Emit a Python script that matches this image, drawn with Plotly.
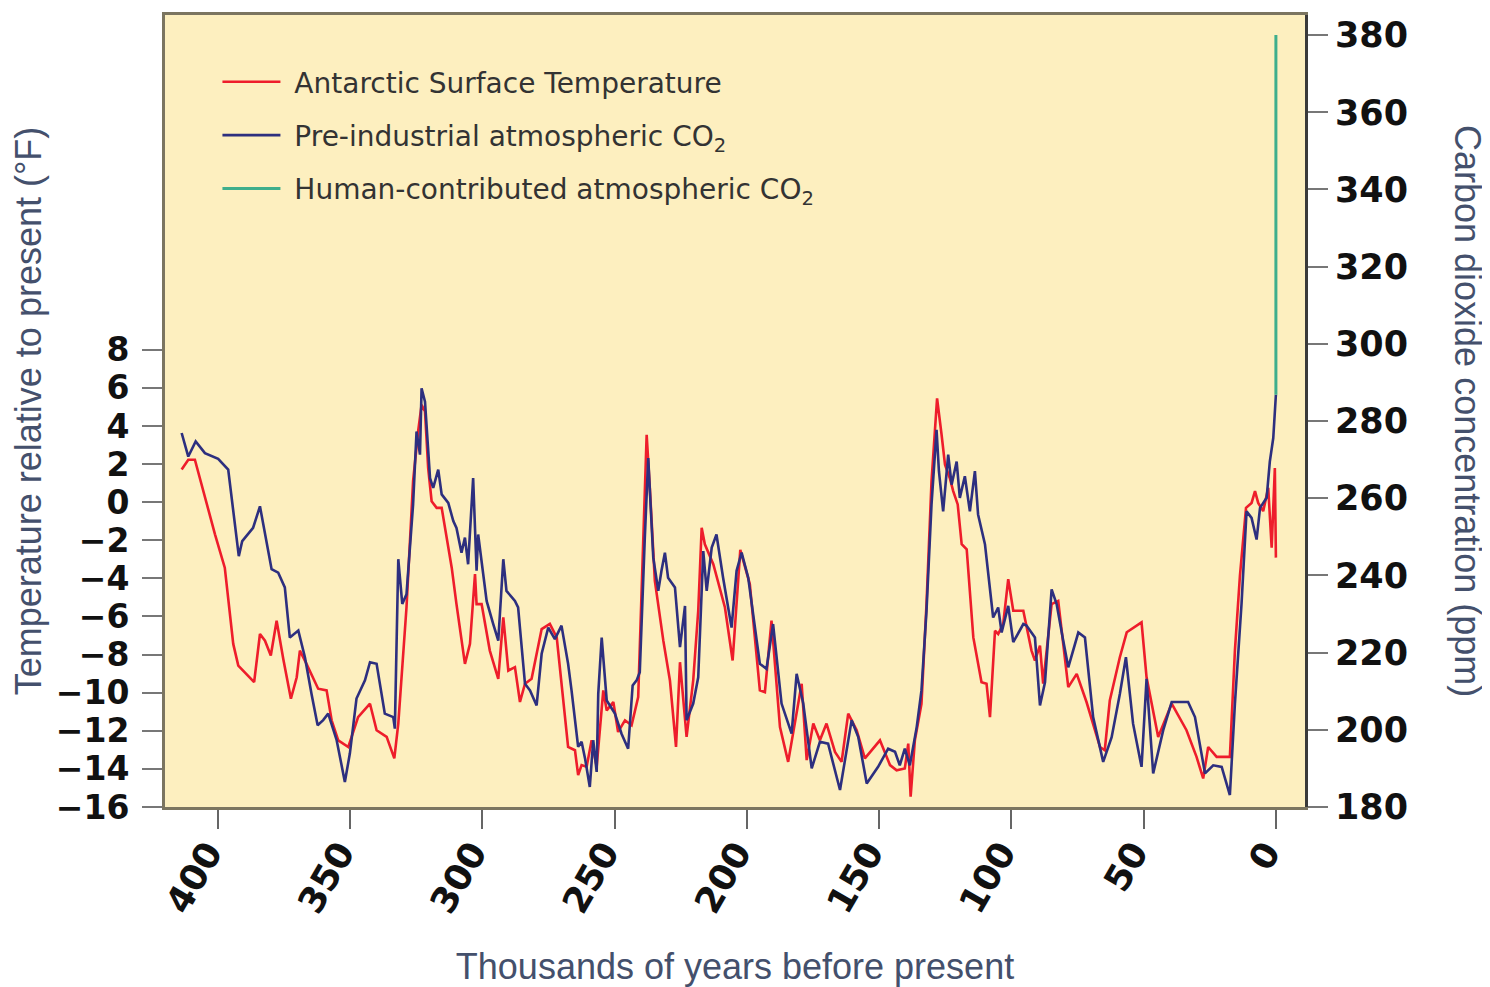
import plotly.graph_objects as go

# ---------------- data ----------------
temp_age = [
    413.7, 411.2, 408.7, 404.3, 401.1, 397.4, 394.2, 392.3, 389.2, 386.3,
    384.1, 382.2, 380.0, 377.8, 375.3, 372.4, 370.2, 369.0, 366.5, 362.1,
    358.9, 357.0, 354.5, 350.7, 347.0, 342.5, 340.0, 336.2, 333.3, 331.8,
    328.7, 326.2, 324.3, 323.0, 321.7, 320.5, 319.2, 317.3, 315.4, 313.5,
    311.6, 309.8, 306.6, 304.7, 302.8, 302.2, 300.3, 297.2, 294.0, 292.1,
    290.2, 287.7, 285.8, 283.9, 281.4, 277.6, 274.5, 271.9, 267.6, 265.0,
    263.8, 262.5, 260.6, 258.7, 256.8, 254.3, 253.0, 250.5, 248.7, 246.1,
    243.6, 241.1, 239.2, 237.9, 236.7, 234.8, 231.6, 229.1, 226.8, 225.3,
    222.8, 220.3, 218.4, 217.1, 215.9, 212.7, 208.3, 205.4, 202.5, 198.9,
    195.1, 193.2, 190.7, 187.5, 184.4, 182.5, 179.3, 177.4, 174.9, 172.4,
    169.9, 166.7, 164.2, 161.7, 158.5, 155.4, 152.9, 149.7, 145.9, 143.4,
    140.3, 139.0, 138.1, 136.5, 134.0, 132.1, 130.2, 128.1, 126.4, 125.1,
    123.3, 122.0, 120.3, 118.8, 116.9, 114.4, 111.3, 109.4, 108.1, 106.2,
    105.0, 103.1, 101.2, 99.3, 95.5, 92.4, 91.1, 89.2, 88.0, 84.8,
    82.3, 80.4, 78.5, 75.3, 71.6, 66.5, 64.7, 62.8, 59.0, 56.4,
    50.8, 48.9, 44.5, 39.4, 33.8, 30.0, 27.5, 25.6, 22.4, 17.4,
    15.5, 13.6, 11.3, 9.2, 7.9, 6.7, 4.8, 2.9, 1.6, 0.4,
    0.0,
]
temp_f = [
    1.71, 2.23, 2.23, -0.12, -1.69, -3.44, -7.44, -8.58, -9.01, -9.45,
    -6.92, -7.27, -8.05, -6.22, -8.22, -10.32, -9.19, -7.79, -8.49, -9.79,
    -9.88, -11.45, -12.50, -12.85, -11.28, -10.58, -11.97, -12.32, -13.45, -11.62,
    -5.53, 1.10, 3.71, 5.11, 4.76, 1.79, 0.05, -0.30, -0.30, -1.87,
    -3.44, -5.35, -8.49, -7.44, -3.78, -5.35, -5.35, -7.79, -9.27, -6.05,
    -8.84, -8.66, -10.49, -9.53, -9.27, -6.66, -6.39, -7.10, -12.85, -13.02,
    -14.33, -13.80, -13.89, -12.50, -13.89, -9.88, -10.93, -10.49, -12.06, -11.45,
    -11.71, -10.23, -1.87, 3.54, 0.75, -4.13, -7.27, -9.36, -12.85, -8.40,
    -12.32, -9.36, -5.70, -1.34, -2.21, -3.26, -5.53, -8.31, -2.50, -4.30,
    -9.88, -9.97, -6.22, -11.80, -13.63, -12.15, -9.53, -13.54, -11.62, -12.50,
    -11.62, -13.11, -13.63, -11.10, -11.97, -13.45, -13.02, -12.50, -13.80, -14.07,
    -13.98, -12.67, -15.46, -12.50, -10.58, -5.35, 1.10, 5.45, 3.54, 1.97,
    1.27, 0.58, -0.12, -2.21, -2.47, -7.10, -9.45, -9.53, -11.28, -6.75,
    -6.92, -6.39, -4.04, -5.70, -5.70, -7.79, -8.31, -7.53, -9.53, -5.35,
    -5.18, -7.44, -9.71, -9.01, -10.49, -12.85, -13.02, -10.41, -8.14, -6.83,
    -6.31, -9.19, -12.32, -10.58, -11.97, -13.37, -14.50, -12.85, -13.37, -13.37,
    -7.79, -3.87, -0.30, -0.04, 0.58, -0.04, -0.47, 0.75, -2.39, 1.79,
    -2.91,
]

co2_age = [
    413.7, 411.2, 408.4, 404.9, 399.9, 396.1, 392.1, 390.8, 386.7, 384.1,
    379.7, 377.2, 374.7, 372.8, 369.6, 367.1, 364.6, 362.3, 360.2, 358.3,
    355.1, 352.0, 350.1, 347.6, 344.4, 342.5, 340.0, 336.9, 333.7, 333.1,
    331.8, 330.3, 328.7, 326.2, 324.9, 323.6, 323.0, 321.7, 319.8, 318.6,
    316.7, 315.4, 312.9, 311.0, 309.8, 307.9, 306.6, 305.4, 303.5, 302.2,
    301.6, 298.4, 295.9, 294.0, 292.1, 290.9, 287.7, 286.5, 283.9, 282.0,
    279.5, 277.6, 275.1, 272.6, 270.1, 267.6, 266.3, 263.8, 262.5, 261.2,
    259.4, 258.1, 256.8, 256.2, 254.9, 253.0, 249.9, 247.4, 244.9, 243.2,
    241.7, 240.5, 238.6, 237.3, 235.4, 233.5, 232.3, 231.0, 229.8, 227.2,
    225.3, 223.4, 222.8, 220.3, 218.4, 216.5, 215.2, 213.3, 211.5, 209.0,
    205.8, 203.9, 202.0, 199.5, 195.1, 192.6, 190.1, 186.9, 183.1, 181.2,
    178.7, 175.5, 172.4, 169.3, 164.8, 160.4, 157.9, 154.7, 150.4, 146.6,
    144.0, 142.2, 140.3, 138.4, 135.8, 134.0, 132.1, 130.2, 128.3, 127.4,
    125.8, 123.9, 122.6, 120.7, 119.5, 117.6, 115.7, 113.8, 112.6, 110.0,
    106.9, 105.0, 103.7, 101.2, 99.3, 95.5, 94.3, 91.1, 89.2, 87.3,
    84.8, 82.9, 80.4, 78.5, 74.7, 72.2, 69.1, 65.3, 62.1, 59.0,
    56.7, 54.0, 50.8, 48.9, 46.4, 42.6, 39.4, 33.2, 30.6, 26.8,
    23.7, 20.5, 17.4, 15.5, 13.0, 11.1, 9.2, 7.3, 6.0, 3.5,
    2.3, 1.0, 0.0,
]
co2_ppm = [
    276.9, 270.8, 274.7, 271.7, 270.2, 267.4, 245.0, 248.9, 252.3, 257.9,
    241.6, 240.7, 236.9, 223.9, 225.7, 218.8, 209.3, 201.2, 202.5, 204.2,
    197.3, 186.5, 193.9, 208.1, 212.8, 217.5, 217.1, 204.2, 203.3, 200.3,
    244.2, 232.6, 235.1, 258.4, 277.3, 271.3, 288.5, 285.0, 265.2, 262.7,
    267.4, 261.0, 258.8, 254.1, 252.3, 245.9, 249.8, 242.9, 265.2, 241.2,
    250.6, 233.4, 227.4, 223.1, 244.2, 236.0, 233.4, 231.7, 211.9, 210.2,
    206.3, 219.7, 226.5, 223.5, 227.0, 217.1, 210.2, 195.6, 196.9, 192.6,
    185.2, 197.3, 189.1, 209.3, 223.9, 207.6, 204.2, 199.0, 195.1, 211.5,
    212.8, 214.9, 249.8, 270.4, 244.6, 236.0, 241.2, 245.9, 239.4, 236.9,
    221.4, 232.1, 202.5, 206.8, 213.6, 246.3, 236.0, 247.2, 250.6, 239.4,
    226.5, 241.2, 245.9, 239.4, 217.1, 215.8, 227.4, 206.8, 199.0, 214.5,
    206.8, 190.0, 196.9, 196.4, 184.4, 202.5, 198.1, 186.1, 190.4, 195.1,
    194.3, 190.8, 195.1, 190.8, 200.7, 210.2, 230.8, 258.4, 277.7, 267.0,
    256.6, 271.3, 263.5, 269.5, 260.1, 265.7, 256.6, 267.0, 255.8, 248.1,
    229.1, 231.7, 225.2, 232.1, 222.7, 227.4, 227.0, 223.9, 206.3, 212.3,
    236.4, 232.6, 223.1, 216.2, 225.2, 223.9, 203.3, 191.7, 198.1, 209.3,
    218.8, 201.6, 190.4, 213.2, 188.7, 199.9, 207.2, 207.2, 203.3, 188.7,
    190.8, 190.4, 183.1, 206.8, 232.6, 256.6, 254.9, 249.3, 257.5, 260.1,
    269.5, 275.6, 286.8,
]

human_age = [0.0, 0.0]
human_ppm = [286.8, 380.0]

x_ticks = [400, 350, 300, 250, 200, 150, 100, 50, 0]
temp_ticks = [-16, -14, -12, -10, -8, -6, -4, -2, 0, 2, 4, 6, 8]
co2_ticks = [180, 200, 220, 240, 260, 280, 300, 320, 340, 360, 380]

series_names = [
    "\u00a0Antarctic Surface Temperature",
    "\u00a0Pre-industrial atmospheric CO<sub>2</sub>",
    "\u00a0Human-contributed atmospheric CO<sub>2</sub>",
]

# ---------------- figure ----------------
fig = go.Figure()

fig.add_trace(go.Scatter(
    x=temp_age, y=temp_f, mode="lines", name=series_names[0],
    line=dict(color="#ee1d2b", width=2.6), yaxis="y", legendgroup="a",
))
fig.add_trace(go.Scatter(
    x=co2_age, y=co2_ppm, mode="lines", name=series_names[1],
    line=dict(color="#2d2f7f", width=2.6), yaxis="y2", legendgroup="b",
))
fig.add_trace(go.Scatter(
    x=human_age, y=human_ppm, mode="lines", name=series_names[2],
    line=dict(color="#3fae8c", width=3), yaxis="y2", legendgroup="c",
))

spine = "#7b7560"
title_font = dict(family="Liberation Sans", size=36, color="#44506c")

fig.update_layout(
    width=1490, height=987,
    margin=dict(l=157, r=193, t=4, b=188),
    paper_bgcolor="white",
    plot_bgcolor="#fdefbf",
    showlegend=True,
    legend=dict(
        x=0.046, y=0.947, xanchor="left", yanchor="top",
        bgcolor="rgba(0,0,0,0)",
        font=dict(family="DejaVu Sans", size=28, color="#333333"),
        tracegroupgap=14, itemwidth=58,
    ),
    xaxis=dict(
        range=[420, -11], autorange=False,
        tickmode="array", tickvals=x_ticks, ticktext=[str(v) for v in x_ticks],
        tickangle=-60, tickfont=dict(family="DejaVu Sans", size=36, color="#111111", weight="bold"),
        ticks="outside", ticklen=19, tickwidth=2, tickcolor="#666666",
        ticklabelstandoff=-12, ticklabelshift=10,
        showline=True, linecolor=spine, linewidth=3, mirror=True,
        showgrid=False, zeroline=False,
        title=dict(text="Thousands of years before present", font=title_font, standoff=35),
    ),
    yaxis=dict(
        range=[-16, 25.57], autorange=False,
        tickmode="array", tickvals=temp_ticks,
        ticktext=[str(v).replace("-", "\u2212") for v in temp_ticks],
        tickfont=dict(family="DejaVu Sans", size=33, color="#111111", weight="bold"),
        ticks="outside", ticklen=20, tickwidth=2, tickcolor="#777777",
        ticklabelstandoff=6,
        showline=True, linecolor=spine, linewidth=3,
        showgrid=False, zeroline=False,
        title=dict(text="Temperature relative to present (\u00b0F)", font=title_font, standoff=4),
    ),
    yaxis2=dict(
        range=[180, 385.2], autorange=False, overlaying="y", side="right",
        tickmode="array", tickvals=co2_ticks,
        tickfont=dict(family="DejaVu Sans", size=35, color="#111111", weight="bold"),
        ticks="outside", ticklen=20, tickwidth=2, tickcolor="#777777",
        showline=True, linecolor="#3a3a3a", linewidth=3,
        showgrid=False, zeroline=False,
    ),
    annotations=[dict(
        text="Carbon dioxide concentration (ppm)", textangle=90,
        xref="paper", yref="paper", x=1.143, y=0.5, xanchor="center", yanchor="middle",
        showarrow=False, font=dict(family="Liberation Sans", size=36, color="#44506c"),
    )],
)

fig.write_html("out.html")
